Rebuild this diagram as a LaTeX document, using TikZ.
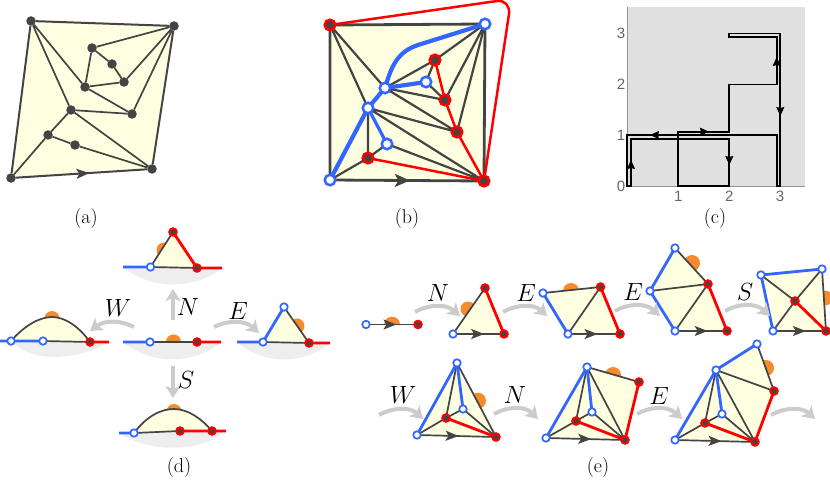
\documentclass[tikz,border=0pt]{standalone}
\usepackage{fontspec}
\newfontfamily\ticksans{Liberation Sans}
\usetikzlibrary{arrows.meta,decorations.markings,calc}
\pgfdeclarelayer{under}
\pgfdeclarelayer{edges}
\pgfsetlayers{under,edges,main}
\definecolor{yel}{HTML}{FEFEE0}
\definecolor{drk}{HTML}{444444}
\definecolor{rd}{HTML}{FF0000}
\definecolor{bl}{HTML}{3366FF}
\definecolor{org}{HTML}{F58A2E}
\definecolor{bowl}{HTML}{EEEEEE}
\definecolor{garr}{HTML}{CCCCCC}
\definecolor{plotbg}{HTML}{E0E0E0}
\definecolor{tick}{HTML}{666666}
\tikzset{
  dn/.style={circle,fill=drk,inner sep=0,minimum size=9.5pt,outer sep=0},
  rn/.style={circle,fill=drk,draw=rd,line width=2pt,inner sep=0,minimum size=7.5pt,outer sep=0},
  bn/.style={circle,fill=white,draw=bl,line width=1.7pt,inner sep=0,minimum size=7.5pt,outer sep=0},
  rnb/.style={rn,line width=2.6pt,minimum size=10.5pt},
  bnb/.style={bn,line width=2.5pt,minimum size=10.5pt},
  e/.style={draw=drk,line width=1.7pt},
  eb/.style={draw=drk,line width=2.2pt},
  re/.style={draw=rd,line width=2.8pt},
  be/.style={draw=bl,line width=2.8pt},
  yf/.style={fill=yel},
  midarrow/.style={postaction={decorate},decoration={markings,mark=at position #1 with {\arrow[drk]{Stealth[length=13pt,width=10pt,inset=3pt]}}}},
  midarrow/.default=.5,
  bigarrow/.style={postaction={decorate},decoration={markings,mark=at position #1 with {\arrow[drk]{Stealth[length=15pt,width=13pt,inset=3.5pt]}}}},
  org dot/.style={fill=org},
  bowlf/.style={fill=bowl},
  move/.style={draw=garr,line width=4pt,-{Stealth[length=12pt,width=15pt,inset=3pt]}},
  lab/.style={font=\fontsize{20}{22}\selectfont,inner sep=0},
  mv/.style={font=\fontsize{25}{27}\selectfont,inner sep=0},
  tk/.style={font=\ticksans\fontsize{15}{16}\selectfont,text=tick,inner sep=0},
  pth/.style={draw=black,line width=1.8pt,line join=miter},
  parr/.style={draw=black,line width=.8pt,-{Stealth[length=9pt,width=8pt,inset=1pt]}},
}
\begin{document}
\begin{tikzpicture}[x=1pt,y=-1pt]
\useasboundingbox (0,0) rectangle (830,484);

% ---------- (a)
\node[dn] (aTL) at (31,21) {};
\node[dn] (aTR) at (174,26) {};
\node[dn] (aBR) at (152,169) {};
\node[dn] (aBL) at (11,178) {};
\node[dn] (aa) at (92,48) {};
\node[dn] (ab) at (112,64) {};
\node[dn] (ac) at (124,82) {};
\node[dn] (ad) at (85,87) {};
\node[dn] (ae) at (132,114) {};
\node[dn] (af) at (71,110) {};
\node[dn] (ag) at (48,135) {};
\node[dn] (ah) at (75,145) {};
\begin{pgfonlayer}{under}
\fill[yf] (aTL.center)--(aTR.center)--(aBR.center)--(aBL.center)--cycle;
\end{pgfonlayer}
\begin{pgfonlayer}{edges}
\path[e,line width=2pt] (aTL)--(aTR) (aTR)--(aBR) (aBL)--(aTL);
\path[e,line width=2pt,midarrow=.56] (aBL)--(aBR);
\path[e] (aTL)--(ad) (aTL)--(af) (ad)--(aa) (aa)--(aTR) (aa)--(ab) (ab)--(ac) (ad)--(ac) (ac)--(aTR) (ad)--(ae) (ae)--(aTR) (af)--(ae) (af)--(ag) (ag)--(aBL) (ag)--(ah) (ah)--(aBR) (af)--(aBR);
\end{pgfonlayer}
\node[lab] (la) at (86,219) {(a)};

% ---------- (b)
\node[rnb] (bTL) at (330,25) {};
\node[bnb] (bTR) at (485,24) {};
\node[rnb] (bBR) at (484,181) {};
\node[bnb] (bBL) at (330,180) {};
\node[rnb] (br1) at (435,60) {};
\node[bnb] (bb1) at (426,82) {};
\node[bnb] (bb2) at (385,88) {};
\node[rnb] (br2) at (445,100) {};
\node[rnb] (br3) at (457,132) {};
\node[bnb] (bb3) at (368,108) {};
\node[bnb] (bb4) at (387,144) {};
\node[rnb] (br4) at (368,158) {};
\begin{pgfonlayer}{under}
\fill[yf] (bTL.center)--(bTR.center)--(bBR.center)--(bBL.center)--cycle;
\end{pgfonlayer}
\begin{pgfonlayer}{edges}
\path[eb,line width=2.8pt] (bTL)--(bTR) (bTR)--(bBR) (bBL)--(bTL);
\path[eb,line width=2.8pt,bigarrow=.52] (bBL)--(bBR);
\path[eb] (bTL)--(bb2) (bTL)--(bb3) (bb2)--(br1) (br1)--(bTR) (br1)--(bb1) (bb1)--(br2) (bb2)--(br2) (br2)--(bTR) (br3)--(bTR) (bb2)--(br3) (bb3)--(br3) (bb3)--(bBR) (bb3)--(br4) (br4)--(bBL) (br4)--(bb4) (bb4)--(bBR);
\path[be,line width=4.2pt] (bTR)--(418,45) .. controls (400,51) and (393,62) .. (bb2) (bb2)--(bb1) (bb2)--(bb3) (bb3)--(bBL);
\path[be,line width=3.2pt] (bb3)--(bb4);
\path[re,line width=2.5pt] (bTL)--(497,1) .. controls (505,0) and (510,6) .. (509,14) -- (bBR);
\path[re,line width=2.5pt] (br1)--(br2) (br2)--(br3) (br3)--(bBR) (br4)--(bBR);
\end{pgfonlayer}
\node[lab] (lb) at (407,219) {(b)};

% ---------- (c)
\fill[plotbg] (627,7) rectangle (805,186);
\draw[tick!70,line width=.6pt] (627,7)--(627,186)--(805,186);
\draw[pth] (627,186)--(627,135)--(776.7,135)--(776.7,186)--(780.3,186)--(780.3,33.5)--(729.3,33.5)--(729.3,37.3)--(776.7,37.3)--(776.7,84.5)--(729.3,84.5)--(729.3,131.7)--(678.3,131.7)--(678.3,186)--(729.3,186)--(729.3,139)--(631,139)--(631,186)--cycle;
\draw[parr] (631,168)--(631,160);
\draw[parr] (658,135)--(650,135);
\draw[parr] (700,131.7)--(709,131.7);
\draw[parr] (729.3,156)--(729.3,165);
\draw[parr] (776.7,66)--(776.7,57);
\draw[parr] (780.3,107)--(780.3,116);
\node[tk] (y0) at (621,186) {0};
\node[tk] (y1) at (621,135) {1};
\node[tk] (y2) at (621,84.5) {2};
\node[tk] (y3) at (621,33.5) {3};
\node[tk] (x1) at (678.3,196.5) {1};
\node[tk] (x2) at (729.3,196.5) {2};
\node[tk] (x3) at (780,196.5) {3};
\node[lab] (lc) at (715,219) {(c)};

% ---------- (d)
% top
\node[bn] (dta) at (150.5,267) {};
\node[rn] (dtb) at (197,268) {};
\node[rn] (dtc) at (173,232) {};
\coordinate (dtl) at (123,267);
\coordinate (dtr) at (222,268);
% centre
\node[bn] (dma) at (150,342) {};
\node[rn] (dmb) at (197,342) {};
\coordinate (dml) at (123,342);
\coordinate (dmr) at (221,342);
% left
\node[bn] (dla) at (11,341) {};
\node[bn] (dlb) at (43,341) {};
\node[rn] (dlc) at (90,342) {};
\coordinate (dll) at (0,341);
\coordinate (dlr) at (109,342);
% right
\node[bn] (dra) at (263,342) {};
\node[bn] (drb) at (284,307) {};
\node[rn] (drc) at (309,343) {};
\coordinate (drl) at (237,342);
\coordinate (drr) at (330,343);
% bottom
\node[bn] (dba) at (134,433) {};
\node[rn] (dbb) at (180,431) {};
\node[rn] (dbc) at (212,431) {};
\coordinate (dbl) at (119,433);
\coordinate (dbr) at (226,431);
\begin{pgfonlayer}{under}
\fill[bowlf] (dtl) .. controls (150,290) and (195,290) .. (dtr)--cycle;
\fill[bowlf] (dml) .. controls (150,365) and (195,365) .. (dmr)--cycle;
\fill[bowlf] (dla.center) .. controls (30,362) and (75,362) .. (dlr)--cycle;
\fill[bowlf] (drl) .. controls (262,365) and (305,365) .. (drr)--cycle;
\fill[bowlf] (dbl) .. controls (150,453) and (200,453) .. (dbr)--cycle;
\fill[org dot] (164,250) circle (7.5);
\fill[org dot] (165.5,342) .. controls (165.5,332) and (180.5,332) .. (180.5,342) -- cycle;
\fill[org dot] (52,318.5) circle (7.5);
\fill[org dot] (297,326) circle (7.5);
\fill[org dot] (174,411.5) circle (7.5);
\fill[yf] (dta.center)--(dtc.center)--(dtb.center)--cycle;
\fill[yf] (dra.center)--(drb.center)--(drc.center)--cycle;
\fill[yf] (dla.center) .. controls (25,325) and (40,317) .. (52,317) .. controls (66,317) and (80,328) .. (dlc.center)--cycle;
\fill[yf] (dba.center) .. controls (146,417) and (160,409) .. (174,409) .. controls (188,409) and (202,419) .. (dbc.center)--(dba.center)--cycle;
\end{pgfonlayer}
\begin{pgfonlayer}{edges}
\path[e] (dta)--(dtc) (dta)--(dtb) (dma)--(dmb) (dlb)--(dlc) (dra)--(drc) (drb)--(drc) (dba)--(dbb);
\path[e] (dla.center) .. controls (25,325) and (40,317) .. (52,317) .. controls (66,317) and (80,328) .. (dlc.center);
\path[e] (dba.center) .. controls (146,417) and (160,409) .. (174,409) .. controls (188,409) and (202,419) .. (dbc.center);
\path[be] (dtl)--(dta) (dml)--(dma) (dll)--(dla) (dla)--(dlb) (drl)--(dra) (dra)--(drb) (dbl)--(dba);
\path[re] (dtc)--(dtb) (dtb)--(dtr) (dmb)--(dmr) (dlc)--(dlr) (drc)--(drr) (dbb)--(dbc) (dbc)--(dbr);
\end{pgfonlayer}
\coordinate (mN1) at (173,320); \coordinate (mN2) at (173,289);
\coordinate (mS1) at (173,366); \coordinate (mS2) at (173,398);
\path[move] (mN1)--(mN2);
\path[move] (mS1)--(mS2);
\coordinate (mW1) at (134,327); \coordinate (mW2) at (90,331);
\coordinate (mE1) at (214,327); \coordinate (mE2) at (259,333);
\path[move] (mW1) .. controls (120,320) and (105,320) .. (mW2);
\path[move] (mE1) .. controls (228,320) and (245,320) .. (mE2);
\node[mv] (dN) at (188,307) {$N$};
\node[mv] (dS) at (186,380) {$S$};
\node[mv] (dW) at (118,308) {$W$};
\node[mv] (dE) at (238,311) {$E$};
\node[lab] (ld) at (179,468) {(d)};

% ---------- (e) row 1
\node[bn] (e0a) at (366,324.5) {};
\node[rn] (e0b) at (418,324.5) {};
\begin{pgfonlayer}{under}
\fill[org dot] (384,325) .. controls (384,314) and (400,314) .. (400,325) -- cycle;
\end{pgfonlayer}
\begin{pgfonlayer}{edges}
\path[e,midarrow=.6] (e0a)--(e0b);
\end{pgfonlayer}

\node[bn] (e1a) at (453,334) {};
\node[rn] (e1b) at (504,334) {};
\node[rn] (e1c) at (485,288) {};
\begin{pgfonlayer}{under}
\fill[org dot] (468,309) circle (7.5);
\fill[yf] (e1a.center)--(e1b.center)--(e1c.center)--cycle;
\end{pgfonlayer}
\begin{pgfonlayer}{edges}
\path[e,midarrow=.63] (e1a)--(e1b);
\path[e] (e1a)--(e1c);
\path[re] (e1c)--(e1b);
\end{pgfonlayer}

\node[bn] (e2a) at (543,293) {};
\node[bn] (e2b) at (568,334) {};
\node[rn] (e2c) at (600.5,287) {};
\node[rn] (e2d) at (620,334) {};
\begin{pgfonlayer}{under}
\fill[org dot] (571,291) circle (8);
\fill[yf] (e2a.center)--(e2c.center)--(e2d.center)--(e2b.center)--cycle;
\end{pgfonlayer}
\begin{pgfonlayer}{edges}
\path[e] (e2a)--(e2c) (e2c)--(e2b);
\path[e,midarrow=.58] (e2b)--(e2d);
\path[be] (e2a)--(e2b);
\path[re] (e2c)--(e2d);
\end{pgfonlayer}

\node[bn] (e3a) at (675,248) {};
\node[bn] (e3b) at (650,291) {};
\node[bn] (e3c) at (675,331) {};
\node[rn] (e3d) at (727,331) {};
\node[rn] (e3e) at (708,284) {};
\begin{pgfonlayer}{under}
\fill[org dot] (692,263) circle (8);
\fill[yf] (e3a.center)--(e3e.center)--(e3d.center)--(e3c.center)--(e3b.center)--cycle;
\end{pgfonlayer}
\begin{pgfonlayer}{edges}
\path[e] (e3a)--(e3e) (e3b)--(e3e) (e3c)--(e3e);
\path[e,midarrow=.65] (e3c)--(e3d);
\path[be] (e3a)--(e3b) (e3b)--(e3c);
\path[re] (e3e)--(e3d);
\end{pgfonlayer}

\node[bn] (e4a) at (761,275) {};
\node[bn] (e4b) at (822,269) {};
\node[bn] (e4c) at (773,331) {};
\node[rn] (e4d) at (826,331) {};
\node[rn] (e4e) at (795,301) {};
\begin{pgfonlayer}{under}
\fill[org dot] (825,298) circle (7.5);
\fill[yf] (e4a.center)--(e4b.center)--(e4d.center)--(e4c.center)--cycle;
\end{pgfonlayer}
\begin{pgfonlayer}{edges}
\path[e] (e4a)--(e4e) (e4b)--(e4e) (e4c)--(e4e) (e4b)--(e4d);
\path[e,midarrow=.64] (e4c)--(e4d);
\path[be] (e4a)--(e4b) (e4a)--(e4c);
\path[re] (e4e)--(e4d);
\end{pgfonlayer}

% row 2
\node[bn] (e5a) at (457,363) {};
\node[bn] (e5b) at (417,435) {};
\node[rn] (e5c) at (496,437) {};
\node[rn] (e5d) at (446,418) {};
\node[bn] (e5e) at (463,409) {};
\begin{pgfonlayer}{under}
\fill[org dot] (478,400.7) circle (8);
\fill[yf] (e5a.center)--(e5c.center)--(e5b.center)--cycle;
\end{pgfonlayer}
\begin{pgfonlayer}{edges}
\path[e] (e5a)--(e5d) (e5a)--(e5c) (e5b)--(e5d) (e5d)--(e5e) (e5e)--(e5c);
\path[e,midarrow=.53] (e5b)--(e5c);
\path[be] (e5b)--(e5a) (e5a)--(e5e);
\path[re] (e5d)--(e5c);
\end{pgfonlayer}

\node[bn] (e6a) at (587,367) {};
\node[bn] (e6b) at (546,438) {};
\node[rn] (e6c) at (625,440) {};
\node[rn] (e6d) at (576,421) {};
\node[bn] (e6e) at (592,412) {};
\node[rn] (e6f) at (639,382) {};
\begin{pgfonlayer}{under}
\fill[org dot] (613,375) circle (8);
\fill[yf] (e6a.center)--(e6f.center)--(e6c.center)--(e6b.center)--cycle;
\end{pgfonlayer}
\begin{pgfonlayer}{edges}
\path[e] (e6a)--(e6f) (e6a)--(e6d) (e6a)--(e6c) (e6b)--(e6d) (e6d)--(e6e) (e6e)--(e6c);
\path[e,midarrow=.58] (e6b)--(e6c);
\path[be] (e6b)--(e6a) (e6a)--(e6e);
\path[re] (e6d)--(e6c) (e6f)--(e6c);
\end{pgfonlayer}

\node[bn] (e7a) at (716,370) {};
\node[bn] (e7b) at (757,344) {};
\node[rn] (e7c) at (774,391) {};
\node[rn] (e7d) at (755,442) {};
\node[bn] (e7e) at (675,440) {};
\node[rn] (e7f) at (705,423) {};
\node[bn] (e7g) at (722,414) {};
\begin{pgfonlayer}{under}
\fill[org dot] (766,368) circle (8);
\fill[yf] (e7a.center)--(e7b.center)--(e7c.center)--(e7d.center)--(e7e.center)--cycle;
\end{pgfonlayer}
\begin{pgfonlayer}{edges}
\path[e] (e7b)--(e7c) (e7a)--(e7c) (e7a)--(e7f) (e7a)--(e7d) (e7e)--(e7f) (e7f)--(e7g) (e7g)--(e7d);
\path[e,midarrow=.59] (e7e)--(e7d);
\path[be] (e7e)--(e7a) (e7a)--(e7b) (e7a)--(e7g);
\path[re] (e7f)--(e7d) (e7c)--(e7d);
\end{pgfonlayer}

% move arrows (e)
\coordinate (m1a) at (415,312); \coordinate (m1b) at (460,316);
\coordinate (m2a) at (503,312); \coordinate (m2b) at (547,316);
\coordinate (m3a) at (615,311); \coordinate (m3b) at (660,316);
\coordinate (m4a) at (725,311); \coordinate (m4b) at (770,316);
\coordinate (m5a) at (379,415); \coordinate (m5b) at (423,419);
\coordinate (m6a) at (494,414); \coordinate (m6b) at (538,419);
\coordinate (m7a) at (637,414); \coordinate (m7b) at (682,419);
\coordinate (m8a) at (771,415); \coordinate (m8b) at (815,419);
\foreach \s in {1,...,8}{
  \path[move] (m\s a) .. controls ($(m\s a)+(12,-7)$) and ($(m\s a)+(30,-9)$) .. (m\s b);
}
\node[mv] (eN1) at (438,293) {$N$};
\node[mv] (eE1) at (526,293) {$E$};
\node[mv] (eE2) at (633,292) {$E$};
\node[mv] (eS1) at (745,292) {$S$};
\node[mv] (eW1) at (403,395) {$W$};
\node[mv] (eN2) at (515,395) {$N$};
\node[mv] (eE3) at (659,396) {$E$};
\node[lab] (le) at (598,468) {(e)};
\end{tikzpicture}
\end{document}
